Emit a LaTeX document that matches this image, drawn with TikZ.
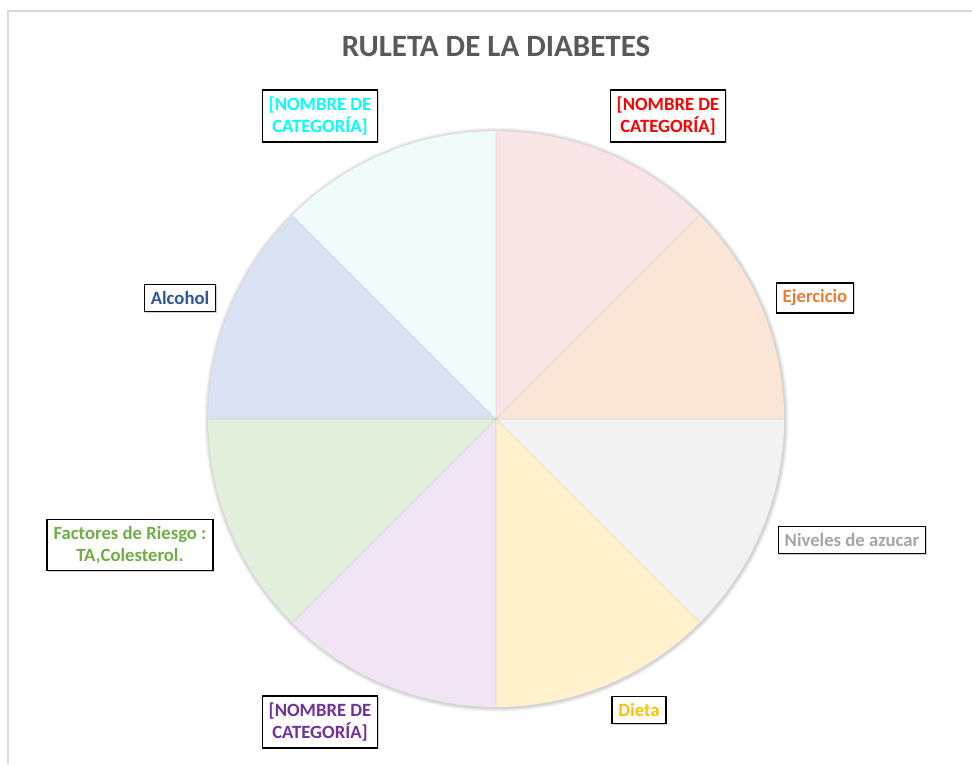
\documentclass[tikz,border=0pt]{standalone}
\usepackage{fontspec}
\setmainfont{Carlito}
\usetikzlibrary{shadows}
\definecolor{cPink}{HTML}{FAE5E6}
\definecolor{cPeach}{HTML}{FBE5D6}
\definecolor{cGray}{HTML}{F2F2F2}
\definecolor{cYellow}{HTML}{FFF2CC}
\definecolor{cPurple}{HTML}{F0E4F5}
\definecolor{cGreen}{HTML}{E2EFDA}
\definecolor{cBlue}{HTML}{DAE3F3}
\definecolor{cCyan}{HTML}{F0FCFC}
\definecolor{tCyan}{HTML}{00FFFF}
\definecolor{tRed}{HTML}{FF0000}
\definecolor{tOrange}{HTML}{ED7D31}
\definecolor{tGray}{HTML}{A5A5A5}
\definecolor{tYellow}{HTML}{FFC000}
\definecolor{tPurple}{HTML}{7030A0}
\definecolor{tGreen}{HTML}{70AD47}
\definecolor{tBlue}{HTML}{2F5597}
\definecolor{tTitle}{HTML}{595959}
\definecolor{frameGray}{HTML}{D9D9D9}
\tikzset{
  lbl/.style={draw=black, line width=1.3pt, fill=white, align=center,
    font=\fontsize{18.7}{21.5}\selectfont\bfseries, inner xsep=6.5pt, inner ysep=7pt,
    drop shadow={shadow xshift=1pt, shadow yshift=-1pt, opacity=0.35}},
}
\begin{document}
\begin{tikzpicture}[x=1pt,y=1pt]
\useasboundingbox (0,0) rectangle (972,764);
\fill[white] (0,0) rectangle (972,764);
% chart frame
\draw[frameGray, line width=2pt] (8,0) -- (8,753) -- (972,753);
% title
\node[font=\fontsize{31}{36}\selectfont\bfseries, text=tTitle] (title) at (496,718) {RULETA DE LA DIABETES};
% pie
\coordinate (c) at (496,345);
\foreach \i in {1,...,5} {
  \fill[black, opacity=0.035] ([shift={(0.6,-0.6)}]c) circle ({288+\i*0.8});
}
\fill[cPink]   (c) -- ++(90:288) arc (90:45:288) -- cycle;
\fill[cPeach]  (c) -- ++(45:288) arc (45:0:288) -- cycle;
\fill[cGray]   (c) -- ++(0:288) arc (0:-45:288) -- cycle;
\fill[cYellow] (c) -- ++(-45:288) arc (-45:-90:288) -- cycle;
\fill[cPurple] (c) -- ++(-90:288) arc (-90:-135:288) -- cycle;
\fill[cGreen]  (c) -- ++(-135:288) arc (-135:-180:288) -- cycle;
\fill[cBlue]   (c) -- ++(180:288) arc (180:135:288) -- cycle;
\fill[cCyan]   (c) -- ++(135:288) arc (135:90:288) -- cycle;
\foreach \a in {0,45,...,315} {
  \draw[black, opacity=0.035, line width=1.5pt] (c) -- ++(\a:287);
}
% labels
\node[lbl, text=tCyan]   (l1) at (320,648) {[NOMBRE DE\\CATEGORÍA]};
\node[lbl, text=tRed]    (l2) at (668,648) {[NOMBRE DE\\CATEGORÍA]};
\node[lbl, text=tOrange] (l3) at (815,466) {Ejercicio};
\node[lbl, text=tGray]   (l4) at (852,224) {Niveles de azucar};
\node[lbl, text=tYellow] (l5) at (639,54)  {Dieta};
\node[lbl, text=tPurple] (l6) at (320,42)  {[NOMBRE DE\\CATEGORÍA]};
\node[lbl, text=tGreen]  (l7) at (130,219) {Factores de Riesgo :\\TA,Colesterol.};
\node[lbl, text=tBlue]   (l8) at (180,466) {Alcohol};
\end{tikzpicture}
\end{document}
